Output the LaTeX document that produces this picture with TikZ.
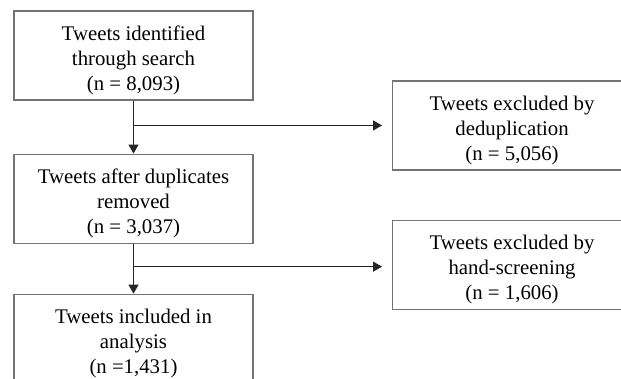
\documentclass[tikz,border=0pt]{standalone}
\usepackage{fontspec}
\setmainfont{Liberation Serif}
\usepackage{tikz}
\usetikzlibrary{arrows.meta,positioning,calc}

% small gap above the first line, as in the original boxes
\newcommand{\topgap}{\rule{0pt}{25pt}}

\begin{document}
\begin{tikzpicture}[
    node distance=50pt and 139pt,
    box/.style={rectangle, draw=black!55, line width=1.1pt, fill=white, align=center, minimum height=89pt, minimum width=239pt, inner sep=2pt, font=\fontsize{20.8}{25}\selectfont},
    arr/.style={-{Triangle[length=9pt, width=10pt]}, line width=1.1pt, draw=black!85},
    ln/.style={line width=1.1pt, draw=black!85}
]
    \useasboundingbox (0,0) rectangle (621pt,-378pt);

    \node [box] (n1) at (133.5pt,-55.5pt) {\topgap Tweets identified\\through search\\(n = 8,093)};
    \node [box, below=53pt of n1] (n2) {\topgap Tweets after duplicates\\removed\\(n = 3,037)};
    \node [box, below=of n2] (n3) {\topgap Tweets included in\\analysis\\(n =1,431)};

    \coordinate (b1) at ($(n1.south)!0.47!(n2.north)$);
    \coordinate (b2) at ($(n2.south)!0.46!(n3.north)$);

    \node [box, anchor=west] (n4) at ($(b1)+(258.5pt,0)$) {\topgap Tweets excluded by\\deduplication\\(n = 5,056)};
    \node [box, anchor=west] (n5) at ($(b2)+(258.5pt,2pt)$) {\topgap Tweets excluded by\\hand-screening\\(n = 1,606)};

    \draw [arr] (n1) -- (n2);
    \draw [arr] (n2) -- (n3);
    \draw [arr, shorten >=10pt] (b1) -- (b1 -| n4.west);
    \draw [arr, shorten >=10pt] (b2) -- (b2 -| n5.west);
\end{tikzpicture}
\end{document}
